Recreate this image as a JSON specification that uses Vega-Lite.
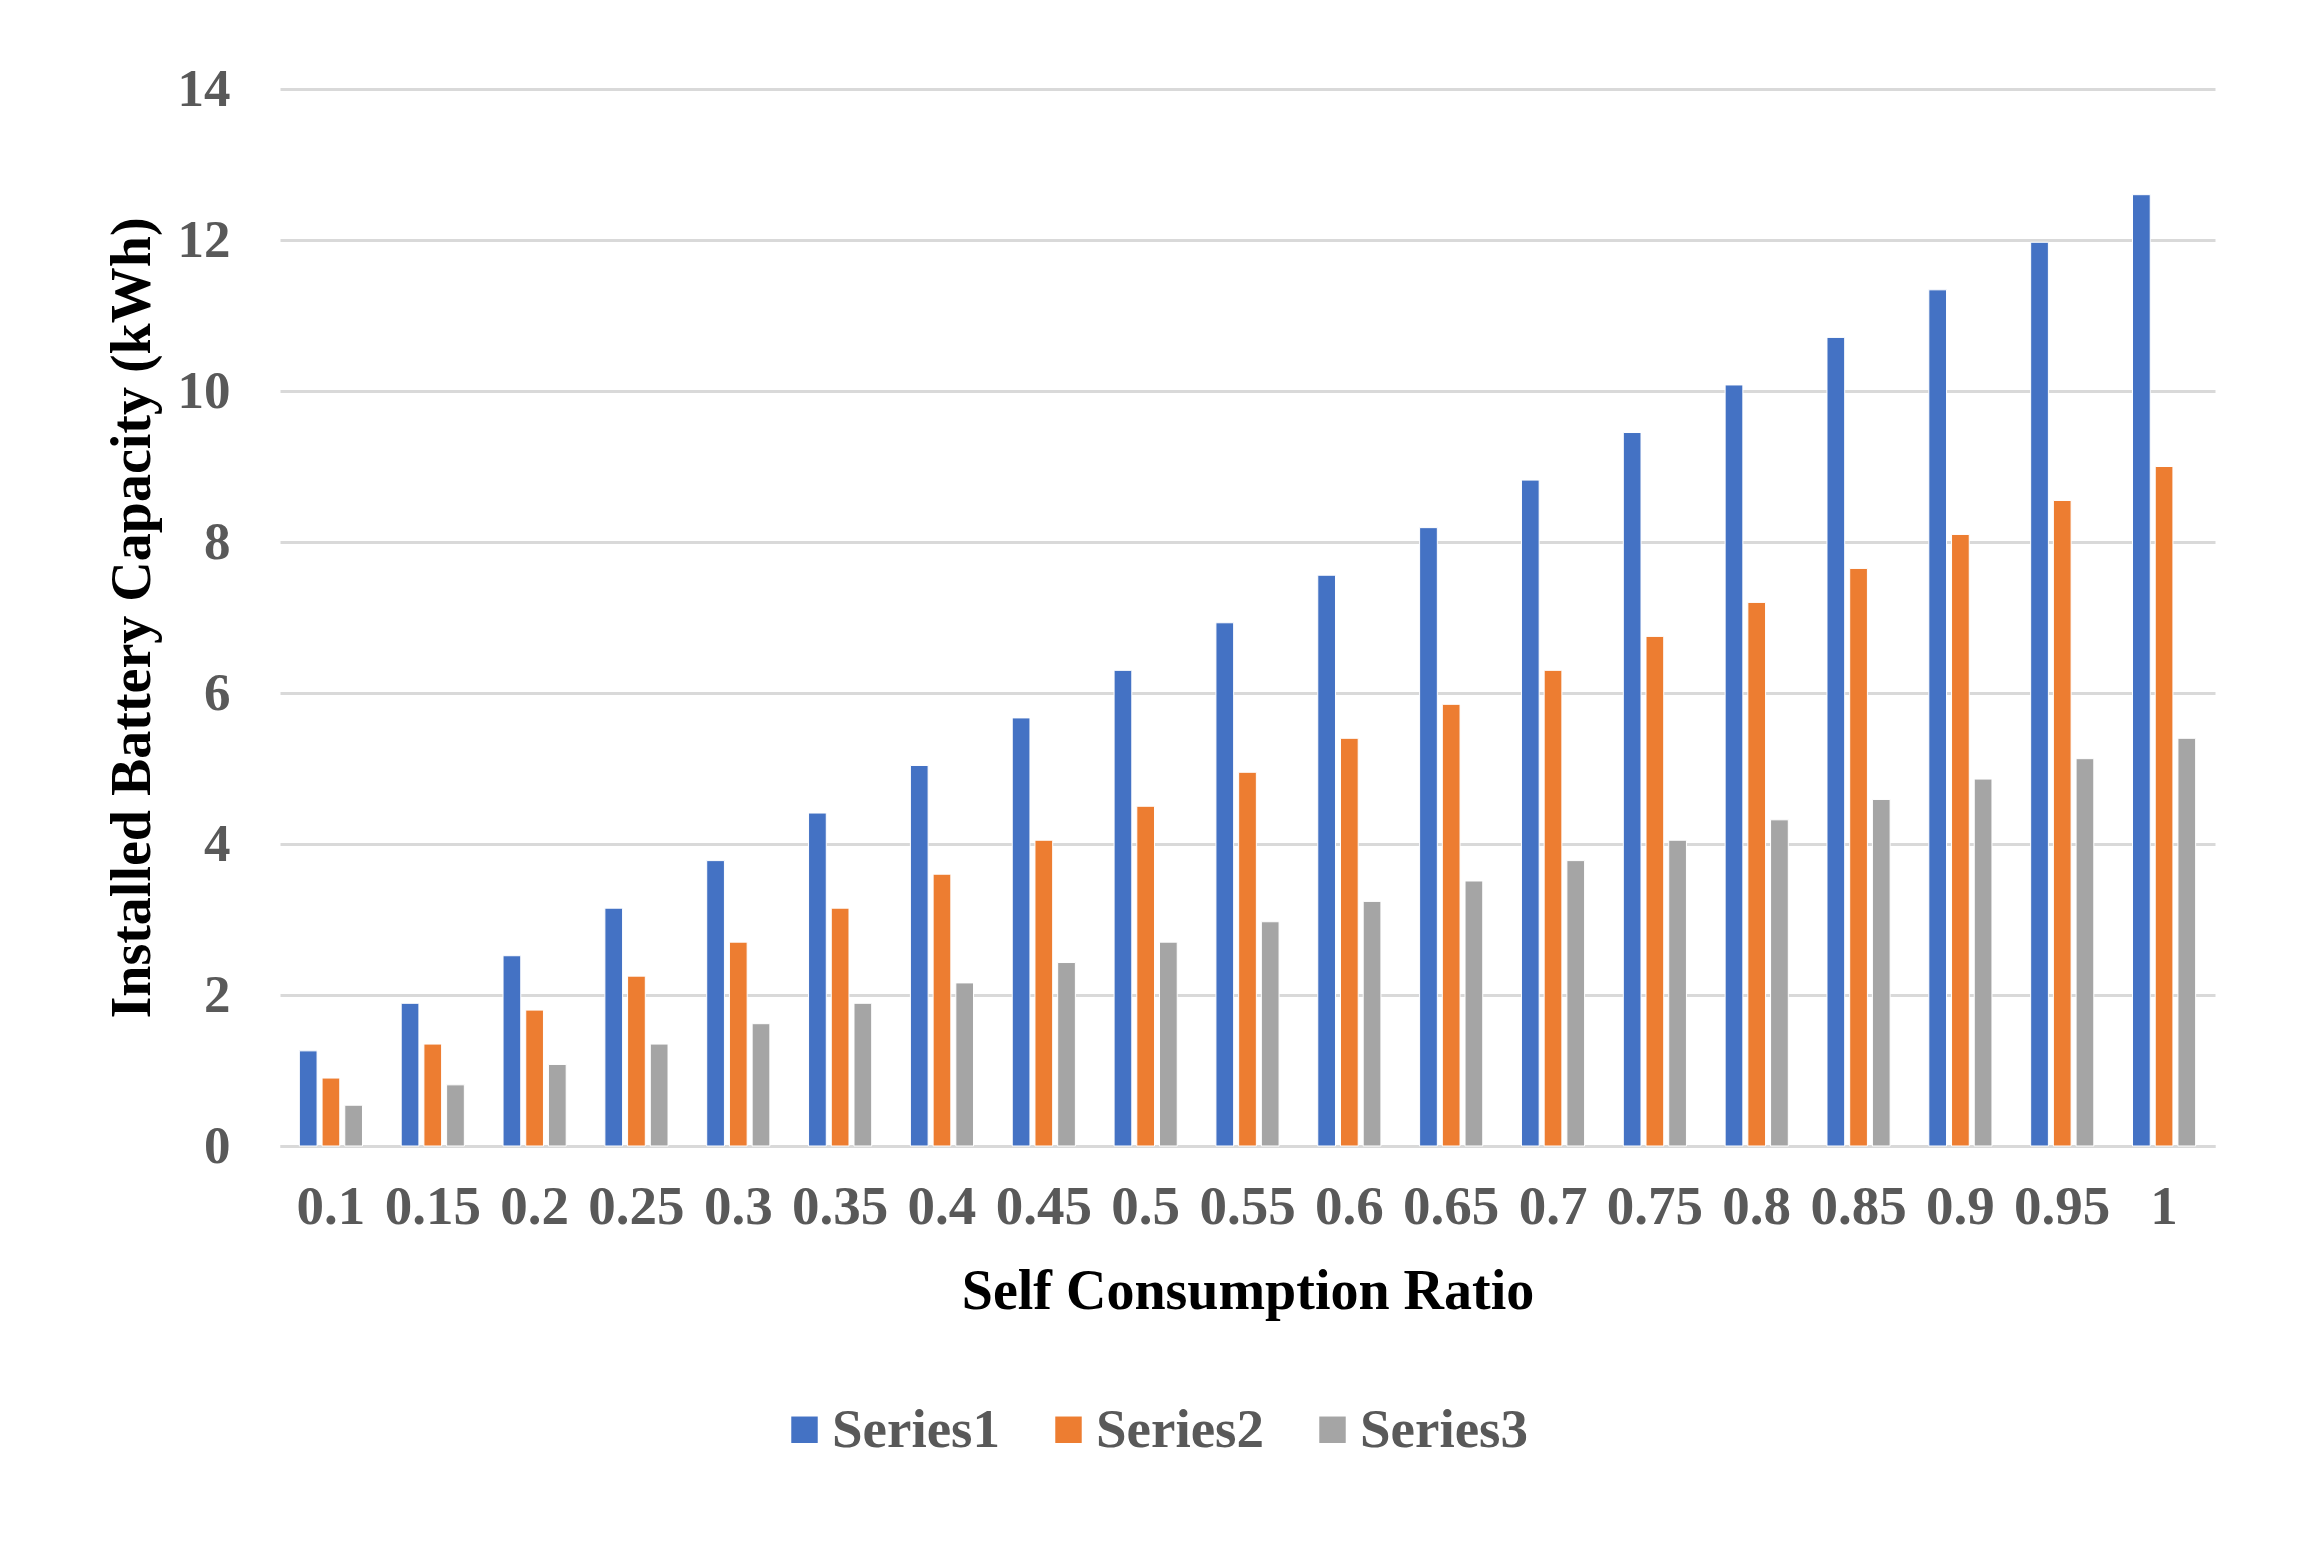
{
  "$schema": "https://vega.github.io/schema/vega-lite/v6.json",
  "autosize": {"type": "none"},
  "width": 1935,
  "height": 1057,
  "padding": {"left": 280, "top": 89, "right": 92, "bottom": 401},
  "background": "white",
  "config": {
    "font": "Liberation Serif",
    "view": {"stroke": null},
    "axis": {"labelFont": "Liberation Serif", "titleFont": "Liberation Serif"}
  },
  "data": {
    "values": [
      {"ratio": 0.1, "series": "Series1", "capacity": 1.26},
      {"ratio": 0.15, "series": "Series1", "capacity": 1.89},
      {"ratio": 0.2, "series": "Series1", "capacity": 2.52},
      {"ratio": 0.25, "series": "Series1", "capacity": 3.15},
      {"ratio": 0.3, "series": "Series1", "capacity": 3.78},
      {"ratio": 0.35, "series": "Series1", "capacity": 4.41},
      {"ratio": 0.4, "series": "Series1", "capacity": 5.04},
      {"ratio": 0.45, "series": "Series1", "capacity": 5.67},
      {"ratio": 0.5, "series": "Series1", "capacity": 6.3},
      {"ratio": 0.55, "series": "Series1", "capacity": 6.93},
      {"ratio": 0.6, "series": "Series1", "capacity": 7.56},
      {"ratio": 0.65, "series": "Series1", "capacity": 8.19},
      {"ratio": 0.7, "series": "Series1", "capacity": 8.82},
      {"ratio": 0.75, "series": "Series1", "capacity": 9.45},
      {"ratio": 0.8, "series": "Series1", "capacity": 10.08},
      {"ratio": 0.85, "series": "Series1", "capacity": 10.71},
      {"ratio": 0.9, "series": "Series1", "capacity": 11.34},
      {"ratio": 0.95, "series": "Series1", "capacity": 11.97},
      {"ratio": 1, "series": "Series1", "capacity": 12.6},
      {"ratio": 0.1, "series": "Series2", "capacity": 0.9},
      {"ratio": 0.15, "series": "Series2", "capacity": 1.35},
      {"ratio": 0.2, "series": "Series2", "capacity": 1.8},
      {"ratio": 0.25, "series": "Series2", "capacity": 2.25},
      {"ratio": 0.3, "series": "Series2", "capacity": 2.7},
      {"ratio": 0.35, "series": "Series2", "capacity": 3.15},
      {"ratio": 0.4, "series": "Series2", "capacity": 3.6},
      {"ratio": 0.45, "series": "Series2", "capacity": 4.05},
      {"ratio": 0.5, "series": "Series2", "capacity": 4.5},
      {"ratio": 0.55, "series": "Series2", "capacity": 4.95},
      {"ratio": 0.6, "series": "Series2", "capacity": 5.4},
      {"ratio": 0.65, "series": "Series2", "capacity": 5.85},
      {"ratio": 0.7, "series": "Series2", "capacity": 6.3},
      {"ratio": 0.75, "series": "Series2", "capacity": 6.75},
      {"ratio": 0.8, "series": "Series2", "capacity": 7.2},
      {"ratio": 0.85, "series": "Series2", "capacity": 7.65},
      {"ratio": 0.9, "series": "Series2", "capacity": 8.1},
      {"ratio": 0.95, "series": "Series2", "capacity": 8.55},
      {"ratio": 1, "series": "Series2", "capacity": 9.0},
      {"ratio": 0.1, "series": "Series3", "capacity": 0.54},
      {"ratio": 0.15, "series": "Series3", "capacity": 0.81},
      {"ratio": 0.2, "series": "Series3", "capacity": 1.08},
      {"ratio": 0.25, "series": "Series3", "capacity": 1.35},
      {"ratio": 0.3, "series": "Series3", "capacity": 1.62},
      {"ratio": 0.35, "series": "Series3", "capacity": 1.89},
      {"ratio": 0.4, "series": "Series3", "capacity": 2.16},
      {"ratio": 0.45, "series": "Series3", "capacity": 2.43},
      {"ratio": 0.5, "series": "Series3", "capacity": 2.7},
      {"ratio": 0.55, "series": "Series3", "capacity": 2.97},
      {"ratio": 0.6, "series": "Series3", "capacity": 3.24},
      {"ratio": 0.65, "series": "Series3", "capacity": 3.51},
      {"ratio": 0.7, "series": "Series3", "capacity": 3.78},
      {"ratio": 0.75, "series": "Series3", "capacity": 4.05},
      {"ratio": 0.8, "series": "Series3", "capacity": 4.32},
      {"ratio": 0.85, "series": "Series3", "capacity": 4.59},
      {"ratio": 0.9, "series": "Series3", "capacity": 4.86},
      {"ratio": 0.95, "series": "Series3", "capacity": 5.13},
      {"ratio": 1, "series": "Series3", "capacity": 5.4}
    ]
  },
  "mark": {"type": "bar", "stroke": "white", "strokeWidth": 1},
  "encoding": {
    "x": {
      "field": "ratio",
      "type": "ordinal",
      "scale": {"paddingInner": 0.38, "paddingOuter": 0.19},
      "axis": {
        "title": "Self Consumption Ratio",
        "labelAngle": 0,
        "labelFont": "Liberation Serif",
        "labelFontWeight": "bold",
        "labelFontSize": 55,
        "labelColor": "#595959",
        "labelPadding": 34,
        "ticks": false,
        "domainColor": "#d9d9d9",
        "domainWidth": 3,
        "titleFont": "Liberation Serif",
        "titleFontWeight": "bold",
        "titleFontSize": 56,
        "titleColor": "black",
        "titlePadding": 30
      }
    },
    "xOffset": {
      "field": "series",
      "type": "nominal",
      "scale": {"paddingInner": 0.22, "paddingOuter": 0}
    },
    "y": {
      "field": "capacity",
      "type": "quantitative",
      "scale": {"domain": [0, 14], "nice": false},
      "axis": {
        "title": "Installed Battery Capacity (kWh)",
        "values": [0, 2, 4, 6, 8, 10, 12, 14],
        "grid": true,
        "gridColor": "#d9d9d9",
        "gridWidth": 3,
        "domain": false,
        "ticks": false,
        "labelFont": "Liberation Serif",
        "labelFontWeight": "bold",
        "labelFontSize": 53,
        "labelColor": "#595959",
        "labelPadding": 50,
        "titleFont": "Liberation Serif",
        "titleFontWeight": "bold",
        "titleFontSize": 56,
        "titleColor": "black",
        "titlePadding": 16
      }
    },
    "color": {
      "field": "series",
      "type": "nominal",
      "scale": {"domain": ["Series1", "Series2", "Series3"], "range": ["#4472C4", "#ED7D31", "#A5A5A5"]},
      "legend": {
        "title": null,
        "orient": "none",
        "direction": "horizontal",
        "legendX": 497,
        "legendY": 1313,
        "symbolType": "square",
        "symbolSize": 700,
        "symbolStrokeWidth": 0,
        "labelFont": "Liberation Serif",
        "labelFontWeight": "bold",
        "labelFontSize": 55,
        "labelColor": "#595959",
        "labelLimit": 400,
        "labelOffset": 0,
        "columnPadding": 40
      }
    }
  }
}
